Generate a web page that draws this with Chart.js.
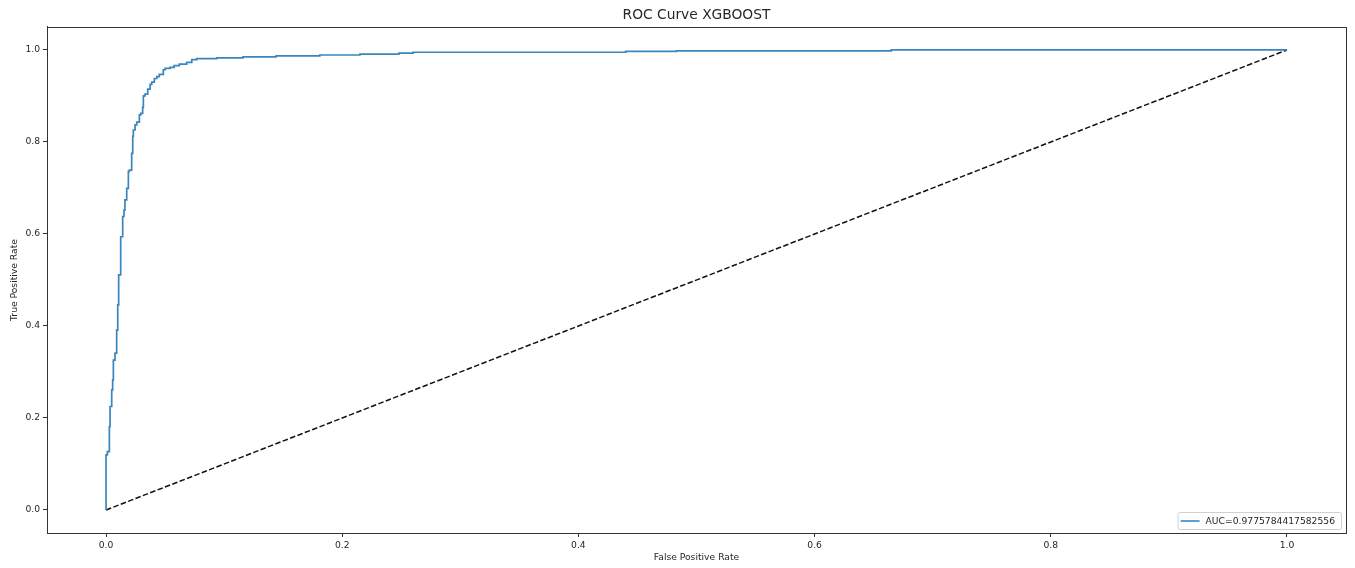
<!DOCTYPE html>
<html>
<head>
<meta charset="utf-8">
<script src="https://cdn.jsdelivr.net/npm/chart.js@4/dist/chart.umd.min.js"></script>
<style>
    body { margin: 0; background: #fff; }
    #wrap { width: 1355px; height: 568px; }
</style>
</head>
<body>
<div id="wrap"><canvas id="roc" width="1355" height="568"></canvas></div>
<script>
// ROC points (false positive rate / true positive rate)
const fpr = [0, 0, 0.0011, 0.0028, 0.0034, 0.0048, 0.0056, 0.0062, 0.0076, 0.009,
    0.0099, 0.0107, 0.0124, 0.0141, 0.0152, 0.016, 0.0175, 0.0189, 0.0197, 0.0217,
    0.0226, 0.0231, 0.0246, 0.026, 0.0282, 0.0294, 0.031, 0.0316, 0.033, 0.0353,
    0.0373, 0.0387, 0.0409, 0.043, 0.0451, 0.0485, 0.05, 0.0542, 0.0576, 0.062,
    0.0683, 0.0726, 0.0768, 0.0937, 0.116, 0.144, 0.181, 0.215, 0.248, 0.26,
    0.44, 0.483, 0.665, 0.84, 1.0];
const tpr = [0, 0.10, 0.12, 0.127, 0.181, 0.225, 0.261, 0.283, 0.326, 0.341,
    0.391, 0.446, 0.511, 0.594, 0.638, 0.652, 0.674, 0.699, 0.736, 0.739,
    0.775, 0.812, 0.826, 0.837, 0.843, 0.859, 0.862, 0.875, 0.9, 0.904,
    0.915, 0.925, 0.93, 0.938, 0.942, 0.947, 0.957, 0.96, 0.962, 0.966,
    0.969, 0.973, 0.979, 0.981, 0.983, 0.985, 0.987, 0.989, 0.991, 0.993,
    0.995, 0.997, 0.998, 1.0, 1.0];
const aucLabel = "AUC=0.9775784417582556";
const chanceX = [0, 1];
const chanceY = [0, 1];
const tickValues = [0, 0.2, 0.4, 0.6, 0.8, 1.0];

const FONT = "'DejaVu Sans', sans-serif";
const SMALL = 9.2;
const TEXT = "#262626";

const toPoints = (xs, ys) => xs.map((x, i) => ({ x: x, y: ys[i] }));

// legend box in the lower right corner, inside the axes
const legendInside = {
    id: "legendInside",
    afterDraw(chart) {
        const ctx = chart.ctx;
        const area = chart.chartArea;
        const ds = chart.data.datasets[0];
        ctx.save();
        ctx.font = SMALL + "px " + FONT;
        const textW = ctx.measureText(ds.label).width;
        const w = textW + 34, h = 17;
        const x = area.right - 5 - w, y = area.bottom - 4 - h;
        ctx.beginPath();
        ctx.roundRect(x + 0.5, y + 0.5, w, h, 2);
        ctx.fillStyle = "rgba(255,255,255,0.8)";
        ctx.fill();
        ctx.strokeStyle = "#d0d0d0";
        ctx.lineWidth = 1;
        ctx.stroke();
        ctx.beginPath();
        ctx.moveTo(x + 3, y + h / 2 + 0.5);
        ctx.lineTo(x + 22, y + h / 2 + 0.5);
        ctx.strokeStyle = ds.borderColor;
        ctx.lineWidth = 1.6;
        ctx.stroke();
        ctx.fillStyle = TEXT;
        ctx.textBaseline = "middle";
        ctx.fillText(ds.label, x + 28, y + h / 2 + 1);
        ctx.restore();
    }
};

// full frame around the axes
const frame = {
    id: "frame",
    afterDraw(chart) {
        const { ctx, chartArea: a } = chart;
        ctx.save();
        ctx.strokeStyle = "#333";
        ctx.lineWidth = 1;
        ctx.strokeRect(Math.round(a.left) + 0.5, Math.round(a.top) + 0.5,
            Math.round(a.right - a.left), Math.round(a.bottom - a.top));
        ctx.restore();
    }
};

const axis = (title, pos) => ({
    type: "linear",
    position: pos,
    min: -0.05,
    max: 1.05,
    afterBuildTicks: (scale) => { scale.ticks = tickValues.map(v => ({ value: v })); },
    afterFit: (scale) => {
        if (pos === "left") scale.width = 47;
        else scale.height = 35;
    },
    grid: { drawOnChartArea: false, drawTicks: true, tickLength: 4, color: "#333" },
    border: { display: true, color: "#333" },
    ticks: {
        padding: 3,
        color: TEXT,
        font: { family: FONT, size: SMALL },
        callback: (v) => Number(v).toFixed(1)
    },
    title: {
        display: true,
        text: title,
        color: TEXT,
        font: { family: FONT, size: SMALL },
        padding: pos === "left" ? { top: 9, bottom: 0 } : { top: 0, bottom: 5 }
    }
});

new Chart(document.getElementById("roc"), {
    type: "scatter",
    data: {
        datasets: [
            {
                label: aucLabel,
                data: toPoints(fpr, tpr),
                showLine: true,
                stepped: "after",
                borderColor: "#3a86bc",
                borderWidth: 1.7,
                pointRadius: 0,
                fill: false
            },
            {
                label: "",
                data: toPoints(chanceX, chanceY),
                showLine: true,
                borderColor: "#111",
                borderWidth: 1.5,
                borderDash: [5.5, 2.4],
                pointRadius: 0,
                fill: false
            }
        ]
    },
    options: {
        responsive: false,
        animation: false,
        layout: { padding: { top: 0, right: 9, bottom: 0, left: 0 } },
        plugins: {
            legend: { display: false },
            tooltip: { enabled: false },
            title: {
                display: true,
                text: "ROC Curve XGBOOST",
                fullSize: false,
                color: TEXT,
                font: { family: FONT, size: 13.8, weight: "normal" },
                padding: { top: 7, bottom: 3.4 }
            }
        },
        scales: {
            x: axis("False Positive Rate", "bottom"),
            y: axis("True Positive Rate", "left")
        }
    },
    plugins: [frame, legendInside]
});
</script>
</body>
</html>
